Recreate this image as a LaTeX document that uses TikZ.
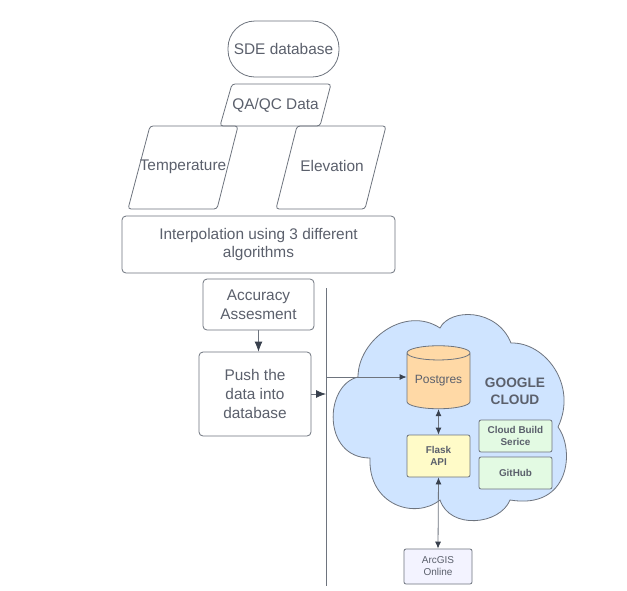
\documentclass[tikz,border=0pt]{standalone}
\usepackage{fontspec}
\setmainfont{Liberation Sans}
\usetikzlibrary{arrows.meta,shapes.geometric}
\definecolor{linegray}{HTML}{6E747E}
\definecolor{textgray}{HTML}{5B606C}
\definecolor{tipgray}{HTML}{39414E}
\definecolor{cloudblue}{HTML}{CFE4FF}
\definecolor{dbOrange}{HTML}{FFD9A6}
\definecolor{apiYellow}{HTML}{FFFBC8}
\definecolor{toolGreen}{HTML}{E3FAE3}
\definecolor{gisLilac}{HTML}{F3F3FF}
\tikzset{
  flowbox/.style={draw=linegray,line width=0.8pt,rounded corners=4pt,text=textgray,align=center,font=\fontsize{15.4}{18.7}\selectfont,inner sep=0pt},
  smallbox/.style={draw=linegray,line width=0.8pt,rounded corners=2pt,text=textgray,align=center,inner sep=0pt,font=\bfseries\fontsize{9.9}{12}\selectfont},
  flowlabel/.style={text=textgray,font=\fontsize{15.4}{19}\selectfont,inner sep=0pt},
  flowline/.style={draw=linegray,line width=0.8pt},
  flowarrow/.style={draw=linegray,line width=0.8pt,-{Latex[length=10pt,width=8pt,color=tipgray]}},
  linkarrow/.style={draw=linegray,line width=0.8pt,-{Latex[length=7pt,width=6pt,color=tipgray]}},
  botharrow/.style={draw=linegray,line width=0.8pt,{Latex[length=7pt,width=6pt,color=tipgray]}-{Latex[length=7pt,width=6pt,color=tipgray]}}
}
\begin{document}
\begin{tikzpicture}[x=1pt,y=-1pt,>=Latex]
  \useasboundingbox (0,0) rectangle (627,590);
  \fill[white] (0,0) rectangle (627,590);
  \node[flowbox,rounded corners=27pt,minimum width=111pt,minimum height=56pt] (sdedb) at (283.5,49) {SDE database};
  \draw[flowline,rounded corners=3pt] (232,84) -- (331,84) -- (320,126) -- (220,126) -- cycle;
  \node[flowlabel] (qaqc) at (275.5,105) {QA/QC Data};
  \draw[flowline,rounded corners=3pt] (150,126) -- (238,126) -- (217,209) -- (128,209) -- cycle;
  \node[flowlabel] (temp) at (183,166.5) {Temperature};
  \draw[flowline,rounded corners=3pt] (297,126) -- (386,126) -- (365,209) -- (276,209) -- cycle;
  \node[flowlabel] (elev) at (332,165.5) {Elevation};
  \node[flowbox,minimum width=273pt,minimum height=57pt] (interp) at (258.5,244.5) {Interpolation using 3 different\\algorithms};
  \node[flowbox,minimum width=111pt,minimum height=51pt] (accuracy) at (258.5,304.5) {Accuracy\\Assesment};
  \node[flowbox,minimum width=112pt,minimum height=84pt] (pushdata) at (255,394) {Push the\\data into\\database};
  \coordinate (bustop) at (326,288);
  \coordinate (busbottom) at (326,586);
  \coordinate (busjoin) at (326,377);
  \draw[flowline] (bustop) -- (busbottom);
  \draw[flowarrow] (accuracy.south -| 258.5,0) -- (pushdata.north -| 258.5,0);
  \draw[flowarrow] (pushdata.east) -- (pushdata.east -| bustop);
  \draw[draw=linegray,fill=cloudblue,line width=0.8pt] (358,377)
    .. controls (358,340) and (405,305) .. (440,328)
    .. controls (450,308) and (497,308) .. (511,343)
    .. controls (545,342) and (578,385) .. (558,427)
    .. controls (575,450) and (570,510) .. (510,500)
    .. controls (500,525) and (450,530) .. (440,500)
    .. controls (415,520) and (368,505) .. (370,458)
    .. controls (322,458) and (324,385) .. (358,377) -- cycle;
  \node[draw=linegray,line width=0.8pt,fill=dbOrange,shape=cylinder,shape border rotate=90,aspect=0.3,minimum width=63pt,minimum height=63pt,inner sep=0pt,text=textgray,font=\fontsize{12}{14}\selectfont] (postgres) at (438.5,381) {Postgres};
  \node[smallbox,fill=apiYellow,minimum width=63pt,minimum height=42pt] (flaskapi) at (438.5,456) {\raisebox{1pt}{Flask}\\\raisebox{1pt}{API}};
  \node[smallbox,fill=toolGreen,minimum width=73pt,minimum height=32pt] (cloudbuild) at (515.5,436) {Cloud Build\\Serice};
  \node[smallbox,fill=toolGreen,minimum width=73pt,minimum height=32pt] (github) at (515.5,473) {GitHub};
  \node[smallbox,fill=gisLilac,font=\fontsize{10}{12}\selectfont,minimum width=68pt,minimum height=35pt] (arcgis) at (438,566.5) {ArcGIS\\Online};
  \node[text=textgray,align=center,inner sep=0pt,font=\bfseries\fontsize{13.7}{17}\selectfont] (gcloud) at (515,391) {GOOGLE\\CLOUD};
  \draw[linkarrow] (busjoin) -- (busjoin -| postgres.west);
  \draw[botharrow] (postgres.south) -- (flaskapi.north);
  \draw[botharrow] (flaskapi.south) -- (arcgis.north);
\end{tikzpicture}
\end{document}
